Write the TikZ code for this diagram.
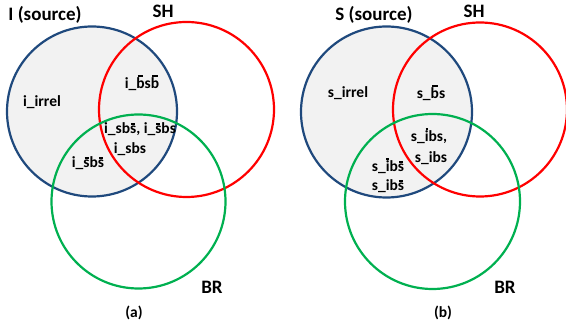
\documentclass[tikz,border=0pt]{standalone}
\usepackage{fontspec}
\setmainfont{Carlito}
\definecolor{setblue}{RGB}{31,73,125}
\definecolor{setred}{RGB}{255,0,0}
\definecolor{setgreen}{RGB}{0,176,80}
\definecolor{setfill}{RGB}{242,242,242}
% short thick bar over one letter
\newcommand\ovl[1]{\setbox0=\hbox{#1}\leavevmode\vbox{\offinterlineskip
  \hbox to\wd0{\hss\vrule width .65\wd0 height 2.2pt\hss}\kern1pt\copy0}}
\tikzset{
  setline/.style={line width=2.2pt},
  lbl/.style={font=\fontsize{15.5}{17}\selectfont\bfseries, inner sep=0pt},
  ttl/.style={font=\fontsize{19}{21}\selectfont\bfseries, inner sep=0pt},
  panel/.style={font=\fontsize{15.5}{17}\selectfont\bfseries, inner sep=0pt},
}
\begin{document}
\begin{tikzpicture}[x=1pt, y=-1pt]
    \useasboundingbox (0, 0) rectangle (566, 328);
    % (a)
    \fill [setfill] (92, 111.5) circle [radius=85];
    \draw [setblue, setline] (92, 111.5) circle [radius=85];
    \draw [setred, setline] (186.5, 109.5) circle [radius=87.5];
    \draw [setgreen, setline] (138.5, 201.5) circle [radius=87];
    \node [ttl] (srcA) at (45, 15) {I (source)};
    \node [ttl] (shA) at (163, 11) {SH};
    \node [ttl] (brA) at (212, 287) {BR};
    \node [panel] (capA) at (134, 313) {(a)};
    \node [lbl] (irrelA) at (42, 102) {i\_irrel};
    \node [lbl] (bsbA) at (142, 83) {i\_\ovl{b}s\ovl{b}};
    \node [lbl] (sbsbarA) at (140, 129) {i\_sb\ovl{s}, i\_\ovl{s}bs};
    \node [lbl] (sbsA) at (130, 149) {i\_sbs};
    \node [lbl] (barsbsA) at (88, 163) {i\_\ovl{s}b\ovl{s}};
    % (b)
    \fill [setfill] (386.5, 112) circle [radius=85.5];
    \draw [setblue, setline] (386.5, 112) circle [radius=85.5];
    \draw [setred, setline] (480, 109.5) circle [radius=87];
    \draw [setgreen, setline] (432.5, 201.5) circle [radius=87.5];
    \node [ttl] (srcB) at (374, 15) {S (source)};
    \node [ttl] (shB) at (474, 11) {SH};
    \node [ttl] (brB) at (505, 287) {BR};
    \node [panel] (capB) at (443, 313) {(b)};
    \node [lbl] (irrelB) at (348, 93) {s\_irrel};
    \node [lbl] (bsB) at (431, 93) {s\_\ovl{b}s};
    \node [lbl] (ibsbarB) at (429, 136) {s\_\ovl{i}bs,};
    \node [lbl] (ibsB) at (431, 158) {s\_ibs};
    \node [lbl] (ibarbsB) at (388, 166) {s\_\ovl{i}b\ovl{s}};
    \node [lbl] (ibsbB) at (388, 186) {s\_ib\ovl{s}};
\end{tikzpicture}
\end{document}
